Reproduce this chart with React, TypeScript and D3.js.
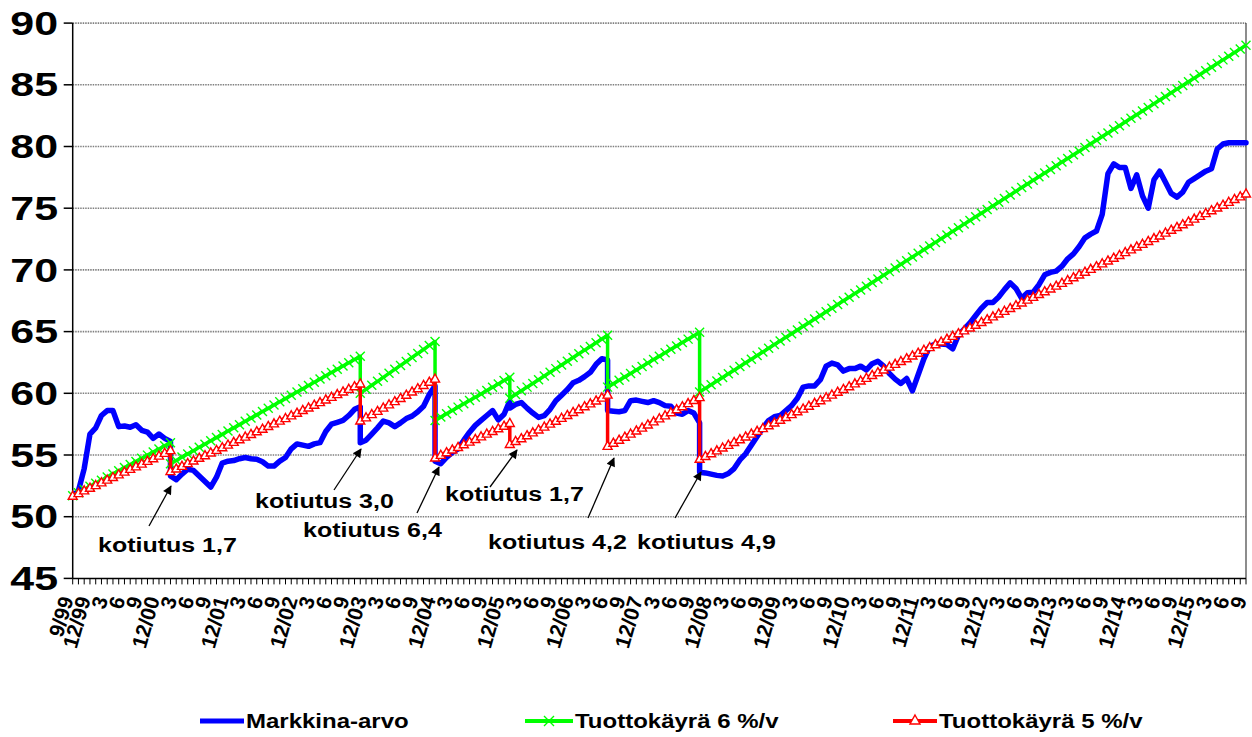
import React from "react";
import * as d3 from "d3";

// ---- DATA ----
// month index 0 = 9/1999, 204 = 9/2016
const dropMonths = [17, 50, 63, 76, 93, 109];

const blueMonthly = [
  51.7, 52.1, 53.9, 56.7, 57.2, 58.2, 58.6, 58.6, 57.3, 57.35,
  57.25, 57.45, 57.0, 56.85, 56.35, 56.7, 56.35, 56.1, 53.0, 53.45,
  53.85, 53.75, 53.3, 52.85, 52.4, 53.2, 54.35, 54.5, 54.55, 54.7,
  54.8, 54.7, 54.65, 54.45, 54.1, 54.1, 54.5, 54.8, 55.5, 55.9,
  55.8, 55.7, 55.9, 56.0, 56.9, 57.5, 57.65, 57.8, 58.2, 58.7,
  58.9, 56.2, 56.7, 57.2, 57.75, 57.6, 57.3, 57.6, 57.95, 58.15,
  58.5, 58.95, 59.9, 60.6, 54.3, 54.8, 55.2, 55.5, 56.2, 56.85,
  57.4, 57.8, 58.2, 58.6, 57.85, 58.3, 59.4, 59.1, 59.25, 58.8,
  58.4, 58.05, 58.2, 58.7, 59.4, 59.85, 60.3, 60.85, 61.05, 61.35,
  61.7, 62.35, 62.8, 62.7, 58.55, 58.5, 58.6, 59.4, 59.45, 59.35,
  59.25, 59.4, 59.25, 59.0, 58.95, 58.4, 58.3, 58.6, 58.4, 57.6,
  53.55, 53.45, 53.35, 53.3, 53.5, 53.9, 54.6, 55.1, 55.8, 56.5,
  57.2, 57.8, 58.1, 58.2, 58.6, 59.0, 59.6, 60.5, 60.6, 60.6,
  61.1, 62.2, 62.45, 62.3, 61.8, 62.0, 62.0, 62.2, 61.9, 62.4,
  62.6, 62.2, 61.6, 61.15, 60.8, 61.2, 60.2, 61.5, 62.8, 63.8,
  64.0, 64.0, 63.95, 63.6, 64.7, 65.2, 65.7, 66.3, 66.9, 67.35,
  67.36, 67.8, 68.4, 68.95, 68.5, 67.7, 68.15, 68.2, 68.8, 69.6,
  69.8, 69.9, 70.3, 70.9, 71.3, 71.9, 72.6, 72.9, 73.15, 74.5,
  77.8, 78.6, 78.3, 78.3, 76.6, 77.7, 76.0, 75.0, 77.3, 78.0,
  77.1, 76.2, 75.9, 76.3, 77.1, 77.4, 77.7, 78.0, 78.2, 79.8,
  80.2, 80.3, 80.3, 80.3, 80.3,
];
const blueAfterDrop = [53.3, 56.0, 54.5, 58.8, 58.6, 53.6];

const greenMonthly = [
  51.7, 51.95, 52.21, 52.46, 52.71, 52.96, 53.22, 53.47, 53.72, 53.98,
  54.23, 54.48, 54.73, 54.99, 55.24, 55.49, 55.75, 56.0, 54.56, 54.83,
  55.09, 55.35, 55.62, 55.88, 56.15, 56.41, 56.67, 56.94, 57.2, 57.46,
  57.73, 57.99, 58.25, 58.52, 58.78, 59.05, 59.31, 59.57, 59.84, 60.1,
  60.36, 60.63, 60.89, 61.15, 61.42, 61.68, 61.95, 62.21, 62.47, 62.74,
  63.0, 60.32, 60.65, 60.97, 61.29, 61.62, 61.94, 62.26, 62.58, 62.91,
  63.23, 63.55, 63.88, 64.2, 58.07, 58.34, 58.61, 58.88, 59.15, 59.42,
  59.68, 59.95, 60.22, 60.49, 60.76, 61.03, 61.3, 59.9, 60.2, 60.5,
  60.8, 61.1, 61.4, 61.7, 62.0, 62.3, 62.6, 62.9, 63.2, 63.5,
  63.8, 64.1, 64.4, 64.7, 60.78, 61.06, 61.33, 61.61, 61.89, 62.17,
  62.45, 62.73, 63.0, 63.28, 63.56, 63.84, 64.12, 64.39, 64.67, 64.95,
  60.4, 60.69, 60.99, 61.28, 61.58, 61.87, 62.17, 62.47, 62.76, 63.06,
  63.35, 63.65, 63.95, 64.24, 64.54, 64.83, 65.13, 65.43, 65.72, 66.02,
  66.31, 66.61, 66.9, 67.2, 67.5, 67.79, 68.09, 68.38, 68.68, 68.97,
  69.27, 69.57, 69.86, 70.16, 70.45, 70.75, 71.05, 71.34, 71.64, 71.93,
  72.23, 72.53, 72.82, 73.12, 73.41, 73.71, 74.0, 74.3, 74.59, 74.89,
  75.19, 75.48, 75.78, 76.07, 76.37, 76.67, 76.96, 77.26, 77.55, 77.85,
  78.14, 78.44, 78.74, 79.03, 79.33, 79.62, 79.92, 80.22, 80.51, 80.81,
  81.1, 81.4, 81.69, 81.99, 82.29, 82.58, 82.88, 83.17, 83.47, 83.77,
  84.06, 84.36, 84.65, 84.95, 85.24, 85.54, 85.84, 86.13, 86.43, 86.72,
  87.02, 87.31, 87.61, 87.91, 88.2,
];
const greenAfterDrop = [54.3, 60.0, 57.8, 59.6, 60.5, 60.1];

const redMonthly = [
  51.7, 51.92, 52.14, 52.35, 52.57, 52.79, 53.01, 53.22, 53.44, 53.66,
  53.88, 54.09, 54.31, 54.53, 54.75, 54.96, 55.18, 55.4, 53.92, 54.13,
  54.35, 54.56, 54.78, 54.99, 55.21, 55.42, 55.64, 55.85, 56.07, 56.28,
  56.5, 56.71, 56.93, 57.14, 57.36, 57.57, 57.79, 58.0, 58.22, 58.43,
  58.65, 58.86, 59.08, 59.29, 59.51, 59.72, 59.94, 60.15, 60.37, 60.58,
  60.8, 58.06, 58.32, 58.58, 58.85, 59.11, 59.37, 59.63, 59.89, 60.15,
  60.42, 60.68, 60.94, 61.2, 55.02, 55.23, 55.45, 55.66, 55.88, 56.09,
  56.31, 56.52, 56.74, 56.95, 57.17, 57.38, 57.6, 56.14, 56.37, 56.61,
  56.84, 57.08, 57.31, 57.55, 57.78, 58.02, 58.25, 58.49, 58.72, 58.96,
  59.19, 59.43, 59.66, 59.9, 56.0, 56.24, 56.49, 56.74, 56.99, 57.23,
  57.48, 57.73, 57.98, 58.22, 58.47, 58.72, 58.96, 59.21, 59.46, 59.7,
  54.93, 55.15, 55.38, 55.61, 55.83, 56.06, 56.28, 56.51, 56.74, 56.96,
  57.19, 57.42, 57.64, 57.87, 58.09, 58.32, 58.55, 58.77, 59.0, 59.23,
  59.45, 59.68, 59.9, 60.13, 60.36, 60.58, 60.81, 61.04, 61.26, 61.49,
  61.72, 61.94, 62.17, 62.39, 62.62, 62.85, 63.07, 63.3, 63.53, 63.75,
  63.98, 64.2, 64.43, 64.66, 64.88, 65.11, 65.34, 65.56, 65.79, 66.01,
  66.24, 66.47, 66.69, 66.92, 67.15, 67.37, 67.6, 67.82, 68.05, 68.28,
  68.5, 68.73, 68.96, 69.18, 69.41, 69.64, 69.86, 70.09, 70.31, 70.54,
  70.77, 70.99, 71.22, 71.45, 71.67, 71.9, 72.12, 72.35, 72.58, 72.8,
  73.03, 73.26, 73.48, 73.71, 73.93, 74.16, 74.39, 74.61, 74.84, 75.07,
  75.29, 75.52, 75.75, 75.97, 76.2,
];
const redAfterDrop = [53.7, 57.8, 54.8, 55.9, 55.75, 54.7];

const tickLabels = [
  "9/99", "12/99", "3", "6", "9", "12/00", "3", "6", "9", "12/01",
  "3", "6", "9", "12/02", "3", "6", "9", "12/03", "3", "6",
  "9", "12/04", "3", "6", "9", "12/05", "3", "6", "9", "12/06",
  "3", "6", "9", "12/07", "3", "6", "9", "12/08", "3", "6",
  "9", "12/09", "3", "6", "9", "12/10", "3", "6", "9", "12/11",
  "3", "6", "9", "12/12", "3", "6", "9", "12/13", "3", "6",
  "9", "12/14", "3", "6", "9", "12/15", "3", "6", "9",
];
const yTicks = [45, 50, 55, 60, 65, 70, 75, 80, 85, 90];

const seriesNames = ["Markkina-arvo", "Tuottokäyrä 6 %/v", "Tuottokäyrä 5 %/v"];
const annotationTexts = [
  "kotiutus 1,7", "kotiutus 3,0", "kotiutus 6,4",
  "kotiutus 1,7", "kotiutus 4,2", "kotiutus 4,9",
];

// ---- LAYOUT ----
const W = 1252;
const H = 737;
const FONT = "'Liberation Sans', Arial, Helvetica, sans-serif";
const TEXT_STRETCH = 1.25;
// text left x, baseline y, arrow start x,y, arrow tip x,y
const annotationLayout = [
  { tx: 98, ty: 552, x1: 149, y1: 526, x2: 171, y2: 486 },
  { tx: 255, ty: 508, x1: 334, y1: 490, x2: 361, y2: 449 },
  { tx: 303, ty: 537, x1: 417, y1: 513, x2: 439, y2: 467 },
  { tx: 445, ty: 501, x1: 490, y1: 487, x2: 517, y2: 450 },
  { tx: 488, ty: 549, x1: 588, y1: 518, x2: 614, y2: 458 },
  { tx: 637, ty: 549, x1: 675, y1: 518, x2: 701, y2: 472 },
];
const legendLayout = [
  { x1: 200, x2: 244, tx: 246 },
  { x1: 525, x2: 573, tx: 575 },
  { x1: 893, x2: 937, tx: 939 },
];

function buildPoints(monthly: number[], after: number[]) {
  const pts: [number, number][] = [];
  monthly.forEach((v, m) => {
    pts.push([m, v]);
    const k = dropMonths.indexOf(m);
    if (k >= 0) pts.push([m, after[k]]);
  });
  return pts;
}

export default function App() {
  const x = d3.scaleLinear().domain([0, 204]).range([72.7, 1246]);
  const y = d3.scaleLinear().domain([45, 90]).range([578.4, 23.1]);
  const line = d3
    .line<[number, number]>()
    .x((d) => x(d[0]))
    .y((d) => y(d[1]));

  const blue = buildPoints(blueMonthly, blueAfterDrop);
  const green = buildPoints(greenMonthly, greenAfterDrop);
  const red = buildPoints(redMonthly, redAfterDrop);

  const months = d3.range(0, 205);
  const labelMonths = d3.range(0, 205, 3);

  const xMarker = (cx: number, cy: number, key: string | number, s = 4.5) => (
    <path
      key={key}
      d={`M${cx - s},${cy - s}L${cx + s},${cy + s}M${cx - s},${cy + s}L${cx + s},${cy - s}`}
      stroke="#00ff00"
      strokeWidth={1.4}
      fill="none"
    />
  );
  const triMarker = (cx: number, cy: number, key: string | number, s = 4.5) => (
    <path
      key={key}
      d={`M${cx},${cy - s}L${cx + s},${cy + s * 0.8}L${cx - s},${cy + s * 0.8}Z`}
      stroke="#ff0000"
      strokeWidth={1.4}
      fill="#ffffff"
    />
  );

  return (
    <svg
      width={W}
      height={H}
      style={{ position: "absolute", left: 0, top: 0, background: "#fff" }}
      fontFamily={FONT}
    >
      <defs>
        <marker
          id="arrowHead"
          viewBox="0 0 10 10"
          refX="9"
          refY="5"
          markerWidth="12"
          markerHeight="9"
          markerUnits="userSpaceOnUse"
          orient="auto"
        >
          <path d="M0,0L10,5L0,10Z" fill="#000" />
        </marker>
      </defs>
      <rect x={0} y={0} width={W} height={H} fill="#fff" />

      {/* gridlines */}
      {yTicks.slice(1).map((t) => (
        <line
          key={"g" + t}
          x1={x(0)}
          x2={x(204)}
          y1={y(t)}
          y2={y(t)}
          stroke="#808080"
          strokeWidth={1.6}
          strokeDasharray="1.5 1"
        />
      ))}
      {/* right border */}
      <line x1={x(204)} x2={x(204)} y1={y(90)} y2={y(45)} stroke="#404040" strokeWidth={1.2} />

      {/* y axis */}
      <line x1={x(0)} x2={x(0)} y1={y(90)} y2={y(45)} stroke="#000" strokeWidth={1.5} />
      {yTicks.map((t) => (
        <g key={"yt" + t}>
          <line x1={x(0) - 9} x2={x(0)} y1={y(t)} y2={y(t)} stroke="#000" strokeWidth={1.5} />
          <text
            transform={`translate(58,${y(t)}) scale(1.3,1)`}
            textAnchor="end"
            dominantBaseline="central"
            fontSize={33}
            fontWeight="bold"
            fill="#000"
          >
            {t}
          </text>
        </g>
      ))}

      {/* x axis */}
      <line x1={x(0)} x2={x(204)} y1={y(45)} y2={y(45)} stroke="#000" strokeWidth={1.5} />
      {months.map((m) => (
        <line key={"xt" + m} x1={x(m)} x2={x(m)} y1={y(45)} y2={y(45) + 6} stroke="#000" strokeWidth={1} />
      ))}
      {labelMonths.map((m, i) => (
        <text
          key={"xl" + m}
          transform={`translate(${x(m) + 1},599) rotate(-74)`}
          textAnchor="end"
          fontSize={21}
          fontWeight="bold"
          fill="#000"
        >
          {tickLabels[i]}
        </text>
      ))}

      {/* series */}
      <path d={line(blue) || ""} fill="none" stroke="#0000ff" strokeWidth={5.5} strokeLinejoin="round" strokeLinecap="round" />
      <path d={line(green) || ""} fill="none" stroke="#00ff00" strokeWidth={3.5} strokeLinejoin="round" />
      {green.map((d, i) => xMarker(x(d[0]), y(d[1]), "gm" + i))}
      <path d={line(red) || ""} fill="none" stroke="#ff0000" strokeWidth={3.5} strokeLinejoin="round" />
      {red.map((d, i) => triMarker(x(d[0]), y(d[1]), "rm" + i))}

      {/* annotations */}
      {annotationLayout.map((a, i) => (
        <g key={"an" + i}>
          <line x1={a.x1} y1={a.y1} x2={a.x2} y2={a.y2} stroke="#000" strokeWidth={1.3} markerEnd="url(#arrowHead)" />
          <text
            transform={`translate(${a.tx},${a.ty}) scale(${TEXT_STRETCH},1)`}
            fontSize={20}
            fontWeight="bold"
            fill="#000"
          >
            {annotationTexts[i]}
          </text>
        </g>
      ))}

      {/* legend */}
      <g>
        <line x1={legendLayout[0].x1} x2={legendLayout[0].x2} y1={721} y2={721} stroke="#0000ff" strokeWidth={5} />
        <line x1={legendLayout[1].x1} x2={legendLayout[1].x2} y1={721} y2={721} stroke="#00ff00" strokeWidth={4} />
        {xMarker((legendLayout[1].x1 + legendLayout[1].x2) / 2, 721, "lg", 5)}
        <line x1={legendLayout[2].x1} x2={legendLayout[2].x2} y1={721} y2={721} stroke="#ff0000" strokeWidth={4} />
        {triMarker((legendLayout[2].x1 + legendLayout[2].x2) / 2, 720, "lr", 5)}
        {seriesNames.map((n, i) => (
          <text
            key={"lt" + i}
            transform={`translate(${legendLayout[i].tx},728) scale(1.2,1)`}
            fontSize={20}
            fontWeight="bold"
            fill="#000"
          >
            {n}
          </text>
        ))}
      </g>
    </svg>
  );
}
